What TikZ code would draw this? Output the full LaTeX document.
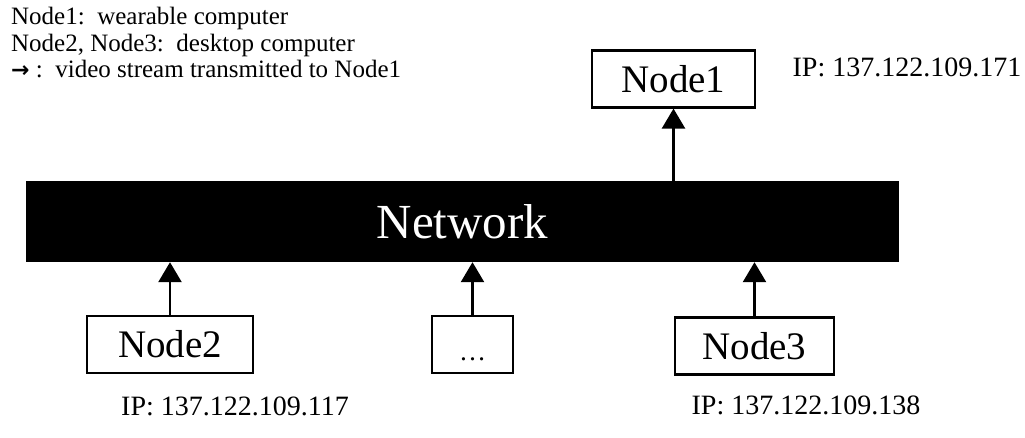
\documentclass[tikz,border=0pt]{standalone}
\usepackage{fontspec}
\setmainfont{Liberation Serif}
\newfontfamily\symfont{DejaVu Sans}
\usetikzlibrary{arrows.meta}
\tikzset{
  hostbox/.style={draw, line width=2.2pt, inner sep=0pt, minimum height=57pt,
    font=\fontsize{39}{42}\selectfont},
  uparrow/.style={line width=2.5pt, -{Triangle[length=20pt,width=23pt]}},
  legend/.style={anchor=base west, inner sep=0pt,
    font=\fontsize{25}{27}\selectfont},
  iplabel/.style={inner sep=0pt, anchor=base,
    font=\fontsize{28}{30}\selectfont},
}
\begin{document}
\begin{tikzpicture}[x=1pt, y=-1pt]
\useasboundingbox (0,0) rectangle (1025,438);

% legend
\node[legend] (l1) at (11,25) {Node1:\ \ wearable computer};
\node[legend] (l2) at (11,52) {Node2, Node3:\ \ desktop computer};
\node[legend] (l3) at (11,78) {{\symfont\bfseries\fontsize{22}{24}\selectfont →}\ :\ \ video stream transmitted to Node1};

% network bar
\node[fill=black, text=white, inner sep=0pt, minimum width=873pt, minimum height=81pt,
      font=\fontsize{49}{52}\selectfont] (net) at (462.5,221.5) {Network};

% hosts
\node[hostbox, minimum width=163pt] (n1) at (673.5,79) {Node1};
\node[hostbox, minimum width=166pt] (n2) at (170,344.5) {Node2};
\node[hostbox, minimum width=81pt]  (nd) at (472.5,344.5)
  {\smash{\raisebox{-15.5pt}{\fontsize{27}{30}\selectfont\ldots}}};
\node[hostbox, minimum width=159pt] (n3) at (754.5,346) {Node3};

% addresses
\node[iplabel] (ip1) at (907,77) {IP: 137.122.109.171};
\node[iplabel] (ip2) at (235,415) {IP: 137.122.109.117};
\node[iplabel] (ip3) at (806,414) {IP: 137.122.109.138};

% video streams
\draw[uparrow] (net.north -| n1.south) -- (n1.south);
\draw[uparrow] (n2.north) -- (n2.north |- net.south);
\draw[uparrow] (nd.north) -- (nd.north |- net.south);
\draw[uparrow] (n3.north) -- (n3.north |- net.south);
\end{tikzpicture}
\end{document}
